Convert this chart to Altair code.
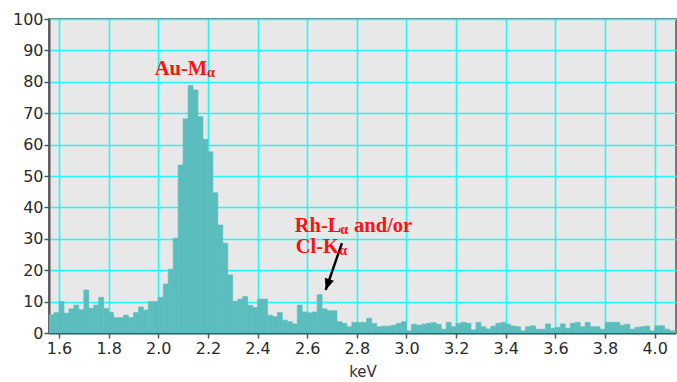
import altair as alt
import pandas as pd

# EDS spectrum recorded in 0.02 keV channels, first channel starting at 1.56 keV
bin_start_kev = 1.56
bin_width_kev = 0.02

counts_low = [5.8, 6.5, 10.0, 6.3, 7.7, 8.9, 7.4, 13.7, 7.9, 8.9, 11.4, 7.8, 6.6,
              4.9, 4.9, 5.7, 4.9, 6.5, 8.3, 7.3, 10.0, 10.0, 11.4, 15.6, 20.3, 30.2]
counts_peak = [53.5, 68.2, 78.8, 77.4, 68.9, 61.7, 57.7, 44.7, 34.4, 28.6, 18.5,
               10.1, 10.8, 11.6, 8.8, 8.1, 10.8, 10.8]
counts_mid = [5.7, 5.2, 6.5, 4.1, 3.6, 2.9, 8.9, 6.7, 6.4, 6.7, 12.2, 7.7, 7.1, 7.1,
              3.6, 3.1, 2.0, 3.4, 3.3, 3.4, 4.7, 3.0, 2.0, 2.2, 2.2, 2.5]
counts_tail = [3.1, 3.6, 0.7, 2.8, 2.5, 2.8, 3.1, 3.3, 2.8, 1.2, 3.4, 2.0, 3.1, 3.4,
               3.1, 1.0, 3.4, 2.0, 1.3, 2.2, 3.1, 3.4, 2.8, 2.2, 2.0, 0.7, 2.0, 2.3,
               1.2, 1.2, 2.9, 1.5, 1.8, 2.9, 1.5, 3.1, 3.4, 2.0, 3.4, 2.0, 2.0, 1.2,
               3.4, 3.4, 3.4, 2.5, 2.8, 1.2, 1.8, 2.0, 2.2, 0.7, 2.3, 2.3, 1.2, 0.7, 0.7]
counts = counts_low + counts_peak + counts_mid + counts_tail

x_ticks = [1.6, 1.8, 2.0, 2.2, 2.4, 2.6, 2.8, 3.0, 3.2, 3.4, 3.6, 3.8, 4.0]
y_ticks = [0, 10, 20, 30, 40, 50, 60, 70, 80, 90, 100]

# Peak labels (text, keV, counts at baseline, font size)
label_text = ["Au-M", "α", "Rh-L", "α", "and/or", "Cl-K", "α"]
label_kev = [1.986, 2.196, 2.550, 2.733, 2.789, 2.554, 2.729]
label_cnt = [82.2, 81.4, 32.2, 31.4, 32.2, 25.5, 24.7]
label_size = [20.5, 14, 20.5, 14, 20.5, 20.5, 14]

# Arrow pointing at the Rh-L / Cl-K line
arrow_from = (2.740, 28.6)
arrow_to = (2.6745, 13.7)

lo = [round(bin_start_kev + i * bin_width_kev, 2) for i in range(len(counts))]
hi = [round(v + bin_width_kev, 2) for v in lo]
spectrum = pd.DataFrame({"lo": lo, "hi": hi, "counts": counts, "base": 0})

labels = pd.DataFrame({"t": label_text, "kev": label_kev, "cnt": label_cnt,
                       "size": label_size})
arrow = pd.DataFrame({"x": [arrow_from[0]], "y": [arrow_from[1]],
                      "x2": [arrow_to[0]], "y2": [arrow_to[1]]})

x_scale = alt.Scale(domain=[1.5597, 4.086], nice=False, zero=False)
y_scale = alt.Scale(domain=[0, 100], nice=False)
x_axis = alt.Axis(values=x_ticks, format=".1f", title="keV")
y_axis = alt.Axis(values=y_ticks, title="")


def xq(field):
    return alt.X(field, type="quantitative", scale=x_scale, axis=x_axis, title="keV")


def yq(field):
    return alt.Y(field, type="quantitative", scale=y_scale, axis=y_axis, title="")


bars = alt.Chart(spectrum).mark_rect(
    color="#5bbdbd", stroke="#5bbdbd", strokeWidth=0.6, clip=True
).encode(
    x=xq("lo"),
    x2="hi:Q",
    y=yq("counts"),
    y2="base:Q",
)

text = alt.Chart(labels).mark_text(
    align="left", baseline="alphabetic", font="Liberation Serif",
    fontWeight="bold", color="#ff1010",
).encode(
    x=xq("kev"),
    y=yq("cnt"),
    text="t:N",
    size=alt.Size("size:Q", scale=None, legend=None),
)

shaft = alt.Chart(arrow).mark_rule(color="black", strokeWidth=2.4).encode(
    x=xq("x"),
    y=yq("y"),
    x2="x2:Q",
    y2="y2:Q",
)

head = alt.Chart(arrow).mark_point(
    shape="M0,0 L-0.42,1 L0.42,1 Z", angle=199, size=520,
    filled=True, color="black", opacity=1,
).encode(
    x=xq("x2"),
    y=yq("y2"),
)

chart = (
    alt.layer(bars, shaft, head, text)
    .properties(
        width=627, height=314,
        autosize=alt.AutoSizeParams(type="none"),
        padding={"left": 49, "top": 19, "right": 1, "bottom": 49},
        background="white",
    )
    .configure_view(stroke="#777", strokeWidth=2, fill="#e8e8e8")
    .configure_axis(
        domainColor="#555", domainWidth=2, tickColor="#555", tickSize=5,
        tickWidth=1.5, labelFont="DejaVu Sans", labelFontSize=16,
        labelColor="#2a2a2a", gridColor="#22f8f8", gridWidth=1.6, gridOpacity=1,
        titleFont="DejaVu Sans", titleFontSize=15, titleFontWeight="normal",
        titleColor="#333",
    )
    .configure_axisX(labelPadding=2, titlePadding=8)
    .configure_axisY(labelPadding=1)
)

chart.save("out.html", embed_options={"renderer": "svg", "actions": False})
